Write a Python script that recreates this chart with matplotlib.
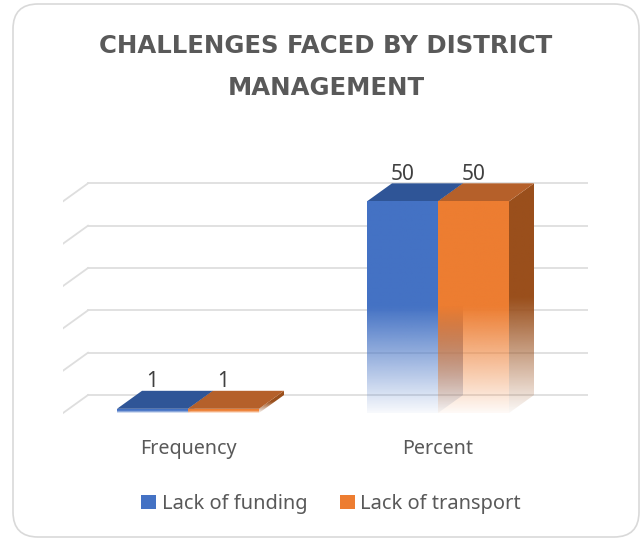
import numpy as np
import matplotlib.pyplot as plt
from matplotlib.patches import Polygon, Patch, FancyBboxPatch
from matplotlib.colors import to_rgb

categories = ['Frequency', 'Percent']
series = ['Lack of funding', 'Lack of transport']
lack_of_funding = [1, 50]
lack_of_transport = [1, 50]
y_ticks = [0, 10, 20, 30, 40, 50]

colors = ['#4472c4', '#ed7d31']
top_colors = ['#2f5597', '#b5602a']
side_colors = ['#2b4d8a', '#9a4f1c']
text_color = '#595959'

plt.rcParams['font.family'] = ['Noto Sans', 'DejaVu Sans']

W, H = 641, 538
fig = plt.figure(figsize=(W / 100, H / 100), dpi=100)


def fx(px):
    return px / W


def fy(py):
    return 1 - py / H


# outer rounded frame
frame = FancyBboxPatch((0.13, 0.01), 6.26, 5.33,
                       boxstyle='round,pad=0,rounding_size=0.25',
                       transform=fig.dpi_scale_trans, facecolor='none',
                       edgecolor='#d9d9d9', linewidth=1.2, zorder=0)
fig.patches.append(frame)

ax = fig.add_axes([fx(63), fy(421.5), 525 / W, 262.5 / H])
ax.set_facecolor('none')

# fake 3d depth (in data units)
dx = 0.1
dy = 4.25
bar_w = 0.284


def gradient_poly(verts, color, y0, y1, z):
    poly = Polygon(verts, closed=True, facecolor='none', edgecolor='none')
    ax.add_patch(poly)
    n = 256
    t = np.linspace(0, 1, n)
    alpha = np.clip(0.04 + 0.96 * t / 0.5, 0, 1)
    img = np.zeros((n, 1, 4))
    img[:, 0, :3] = to_rgb(color)
    img[:, 0, 3] = alpha
    xs = [p[0] for p in verts]
    im = ax.imshow(img, extent=(min(xs), max(xs), y0, y1), origin='lower',
                   aspect='auto', interpolation='bilinear', zorder=z)
    im.set_clip_path(poly)


# gridlines: back wall plus the left floor edge
for t in y_ticks:
    ax.plot([-0.5 + dx, 1.6], [t + dy, t + dy], color='#dedede', lw=1.3, zorder=1)
    ax.plot([-0.5, -0.5 + dx], [t, t + dy], color='#dedede', lw=1.3, zorder=1)

values = [lack_of_funding, lack_of_transport]
for i, cat in enumerate(categories):
    for s in range(len(series)):
        v = values[s][i]
        x0 = i - bar_w + s * bar_w
        x1 = x0 + bar_w
        z = 2 + s * 3
        # right side face
        gradient_poly([(x1, 0), (x1 + dx, dy), (x1 + dx, v + dy), (x1, v)],
                      side_colors[s], 0, v + dy, z)
        # top face
        ax.add_patch(Polygon([(x0, v), (x1, v), (x1 + dx, v + dy), (x0 + dx, v + dy)],
                             closed=True, facecolor=top_colors[s], edgecolor='none',
                             zorder=z + 1))
        # front face
        gradient_poly([(x0, 0), (x1, 0), (x1, v), (x0, v)], colors[s], 0, v, z + 2)
        ax.text((x0 + x1) / 2, v + dy - 0.3, str(v), ha='center', va='bottom',
                fontsize=15, color='#404040', zorder=10)

ax.set_xlim(-0.5, 1.6)
ax.set_ylim(-2, 60)
ax.set_xticks(range(len(categories)))
ax.set_xticklabels(categories, fontsize=14.2, color=text_color)
ax.tick_params(axis='x', length=0, pad=12.5)
ax.set_yticks([])
for sp in ax.spines.values():
    sp.set_visible(False)

title_font = dict(ha='center', va='baseline', fontsize=17.6, fontweight='bold',
                  color=text_color, family='DejaVu Sans')
fig.text(fx(326), fy(53), 'CHALLENGES FACED BY DISTRICT', **title_font)
fig.text(fx(326), fy(95), 'MANAGEMENT', **title_font)

handles = [Patch(facecolor=c, edgecolor='none') for c in colors]
fig.legend(handles, series, loc='center', bbox_to_anchor=(fx(331), fy(504)),
           ncol=2, frameon=False, fontsize=14.4, handlelength=0.75, handleheight=0.75,
           handletextpad=0.3, columnspacing=1.6, labelcolor=text_color)

fig.savefig('out.png', dpi=100)
